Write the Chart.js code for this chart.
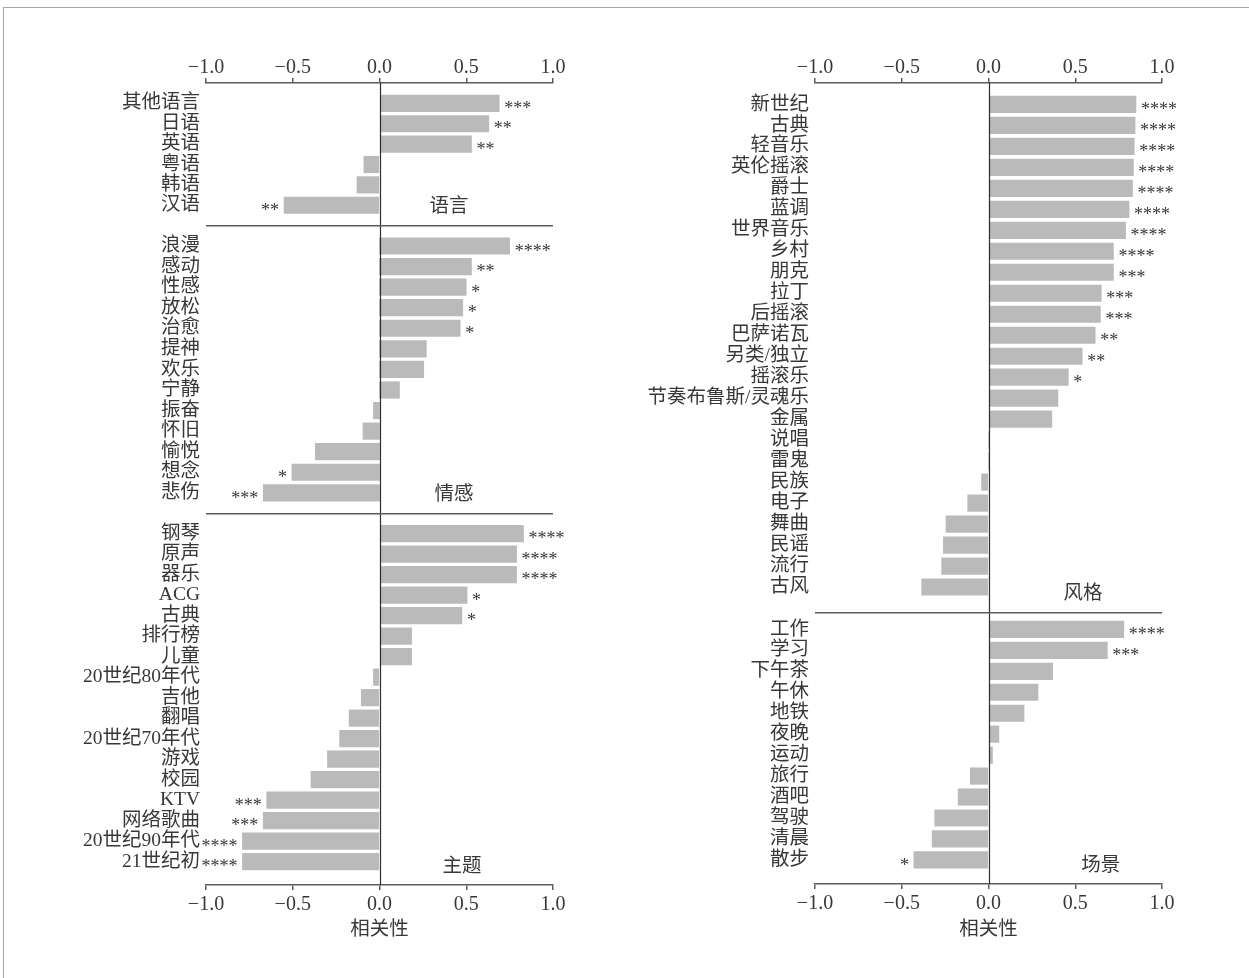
<!DOCTYPE html>
<html>
<head>
<meta charset="utf-8">
<script src="https://cdn.jsdelivr.net/npm/chart.js@4.4.1/dist/chart.umd.min.js"></script>
<style>
  html, body { margin: 0; padding: 0; background: #ffffff; }
  #page { position: relative; width: 1249px; height: 978px; overflow: hidden; background: #ffffff; }
  #frame { position: absolute; left: 3px; top: 7px; width: 1260px; height: 990px;
           border-top: 1px solid #a6a6a6; border-left: 1px solid #a6a6a6; }
  #page canvas { position: absolute; }
</style>
</head>
<body>
<div id="page"><div id="frame"></div></div>
<script>
// ---- 语言 ----
const langLabels = ['其他语言', '日语', '英语', '粤语', '韩语', '汉语'];
const langValues = [0.69, 0.63, 0.53, -0.09, -0.13, -0.55];
const langStars  = ['***', '**', '**', '', '', '**'];

// ---- 情感 ----
const moodLabels = ['浪漫', '感动', '性感', '放松', '治愈', '提神', '欢乐', '宁静', '振奋', '怀旧', '愉悦', '想念', '悲伤'];
const moodValues = [0.75, 0.53, 0.50, 0.48, 0.465, 0.27, 0.255, 0.115, -0.035, -0.095, -0.37, -0.505, -0.67];
const moodStars  = ['****', '**', '*', '*', '*', '', '', '', '', '', '', '*', '***'];

// ---- 主题 ----
const themeLabels = ['钢琴', '原声', '器乐', 'ACG', '古典', '排行榜', '儿童', '20世纪80年代', '吉他', '翻唱',
                     '20世纪70年代', '游戏', '校园', 'KTV', '网络歌曲', '20世纪90年代', '21世纪初'];
const themeValues = [0.83, 0.79, 0.79, 0.505, 0.475, 0.185, 0.185, -0.035, -0.105, -0.175,
                     -0.23, -0.30, -0.395, -0.65, -0.67, -0.79, -0.79];
const themeStars  = ['****', '****', '****', '*', '*', '', '', '', '', '',
                     '', '', '', '***', '***', '****', '****'];

// ---- 风格 ----
const styleLabels = ['新世纪', '古典', '轻音乐', '英伦摇滚', '爵士', '蓝调', '世界音乐', '乡村', '朋克', '拉丁',
                     '后摇滚', '巴萨诺瓦', '另类/独立', '摇滚乐', '节奏布鲁斯/灵魂乐', '金属', '说唱', '雷鬼',
                     '民族', '电子', '舞曲', '民谣', '流行', '古风'];
const styleValues = [0.85, 0.845, 0.84, 0.835, 0.83, 0.81, 0.79, 0.72, 0.72, 0.65,
                     0.645, 0.615, 0.54, 0.46, 0.40, 0.365, 0, 0,
                     -0.04, -0.12, -0.245, -0.26, -0.27, -0.385];
const styleStars  = ['****', '****', '****', '****', '****', '****', '****', '****', '***', '***',
                     '***', '**', '**', '*', '', '', '', '',
                     '', '', '', '', '', ''];

// ---- 场景 ----
const sceneLabels = ['工作', '学习', '下午茶', '午休', '地铁', '夜晚', '运动', '旅行', '酒吧', '驾驶', '清晨', '散步'];
const sceneValues = [0.78, 0.685, 0.37, 0.285, 0.205, 0.06, 0.023, -0.105, -0.175, -0.31, -0.325, -0.43];
const sceneStars  = ['****', '***', '', '', '', '', '', '', '', '', '', '*'];

const xTicks = [-1.0, -0.5, 0.0, 0.5, 1.0];
const axisTitle = '相关性';

// ---- look ----
const FONT = "'Liberation Serif', 'Noto Sans CJK SC', serif";
const CJK = "'Noto Sans CJK SC', 'Liberation Serif', sans-serif";
const TEXT = '#383838';
const AXIS = '#5c5c5c';
const BAR = '#bababa';

const page = document.getElementById('page');

function fmtTick(v) {
  const s = Math.abs(v).toFixed(1);
  return (v < 0 ? '\u2212' : '') + s;
}

function noPad(s) {
  s.paddingTop = 0;
  s.paddingBottom = 0;
  s.paddingLeft = 0;
  s.paddingRight = 0;
}

// zero line, group dividers, significance stars and group names
const decor = {
  id: 'decor',
  afterDatasetsDraw(chart, args, opts) {
    const { ctx, chartArea: a, scales: { x } } = chart;
    ctx.save();
    const x0 = Math.round(x.getPixelForValue(0)) + 0.5;
    ctx.strokeStyle = '#2e2e2e';
    ctx.lineWidth = 1.2;
    ctx.beginPath();
    ctx.moveTo(x0, a.top);
    ctx.lineTo(x0, a.bottom);
    ctx.stroke();

    if (opts.divider) {
      ctx.strokeStyle = AXIS;
      ctx.lineWidth = 1.5;
      ctx.beginPath();
      ctx.moveTo(a.left, a.top + 0.75);
      ctx.lineTo(a.right, a.top + 0.75);
      ctx.stroke();
    }

    const meta = chart.getDatasetMeta(0);
    const vals = chart.data.datasets[0].data;
    ctx.fillStyle = TEXT;
    ctx.font = "18px 'Liberation Serif'";
    ctx.textBaseline = 'middle';
    meta.data.forEach((bar, i) => {
      const s = opts.stars[i];
      if (!s) return;
      if (vals[i].x >= 0) {
        ctx.textAlign = 'left';
        ctx.fillText(s, bar.x + 5, bar.y + 6);
      } else {
        ctx.textAlign = 'right';
        ctx.fillText(s, bar.x - 5, bar.y + 6);
      }
    });

    ctx.font = '19.5px ' + CJK;
    ctx.textAlign = 'center';
    ctx.fillText(opts.name, x.getPixelForValue(opts.nameX), a.bottom - 20);
    ctx.restore();
  }
};

function makeGroup(g) {
  const canvas = document.createElement('canvas');
  canvas.width = g.width;
  canvas.height = g.height;
  canvas.style.left = g.left + 'px';
  canvas.style.top = g.top + 'px';
  page.appendChild(canvas);
  const n = g.labels.length;

  const xScale = {
    type: 'linear',
    min: -1, max: 1,
    display: !!g.axis,
    position: g.axis || 'top',
    afterBuildTicks: s => { s.ticks = xTicks.map(v => ({ value: v })); },
    afterFit: s => { noPad(s); if (g.axisHeight) s.height = g.axisHeight; },
    ticks: {
      callback: v => fmtTick(v),
      font: { family: FONT, size: 20 },
      color: TEXT,
      padding: g.axis === 'top' ? -2 : 3,
      maxRotation: 0, autoSkip: false
    },
    grid: { display: true, drawOnChartArea: false, drawTicks: true, tickLength: 5,
            color: AXIS, lineWidth: 1.5 },
    border: { display: true, color: AXIS, width: 1.5 },
    title: g.axis === 'bottom'
      ? { display: true, text: axisTitle, color: TEXT, font: { family: CJK, size: 19.5 },
          padding: { top: 0, bottom: 11 } }
      : { display: false }
  };

  new Chart(canvas, {
    type: 'bar',
    data: {
      datasets: [{
        data: g.values.map((v, i) => ({ x: v, y: i })),
        backgroundColor: BAR,
        borderWidth: 0,
        barThickness: 16.5
      }]
    },
    options: {
      indexAxis: 'y',
      responsive: false,
      animation: false,
      devicePixelRatio: 1,
      layout: { padding: { left: 0, right: g.padRight, top: 0, bottom: 0 } },
      plugins: {
        legend: { display: false },
        tooltip: { enabled: false },
        decor: { stars: g.stars, name: g.name, nameX: g.nameX, divider: !!g.divider }
      },
      scales: {
        x: xScale,
        y: {
          type: 'linear',
          reverse: true,
          offset: false,
          min: -g.padA,
          max: n - 1 + g.padB,
          afterBuildTicks: s => { s.ticks = g.labels.map((_, i) => ({ value: i })); },
          afterFit: s => { noPad(s); s.width = g.yWidth; },
          ticks: {
            callback: v => g.labels[v],
            autoSkip: false,
            padding: 6,
            font: { family: FONT, size: 19.5 },
            color: TEXT
          },
          grid: { display: false, drawTicks: false, offset: false },
          border: { display: false }
        }
      }
    },
    plugins: [decor]
  });
}

// left column: 语言 / 情感 / 主题
makeGroup({ labels: langLabels, values: langValues, stars: langStars, name: '语言', nameX: 0.40,
            left: 0, top: 40, width: 600, height: 185, yWidth: 206, padRight: 47,
            axis: 'top', axisHeight: 43, padA: 1.0, padB: 0.97 });
makeGroup({ labels: moodLabels, values: moodValues, stars: moodStars, name: '情感', nameX: 0.43,
            left: 0, top: 225, width: 600, height: 288, yWidth: 206, padRight: 47,
            divider: true, padA: 1.02, padB: 0.98 });
makeGroup({ labels: themeLabels, values: themeValues, stars: themeStars, name: '主题', nameX: 0.475,
            left: 0, top: 513, width: 600, height: 437, yWidth: 206, padRight: 47,
            divider: true, axis: 'bottom', axisHeight: 65, padA: 1.01, padB: 1.14 });

// right column: 风格 / 场景
makeGroup({ labels: styleLabels, values: styleValues, stars: styleStars, name: '风格', nameX: 0.545,
            left: 620, top: 40, width: 620, height: 572, yWidth: 195, padRight: 78,
            axis: 'top', axisHeight: 43, padA: 1.02, padB: 1.19 });
makeGroup({ labels: sceneLabels, values: sceneValues, stars: sceneStars, name: '场景', nameX: 0.647,
            left: 620, top: 612, width: 620, height: 338, yWidth: 195, padRight: 78,
            divider: true, axis: 'bottom', axisHeight: 66, padA: 0.83, padB: 1.15 });
</script>
</body>
</html>
